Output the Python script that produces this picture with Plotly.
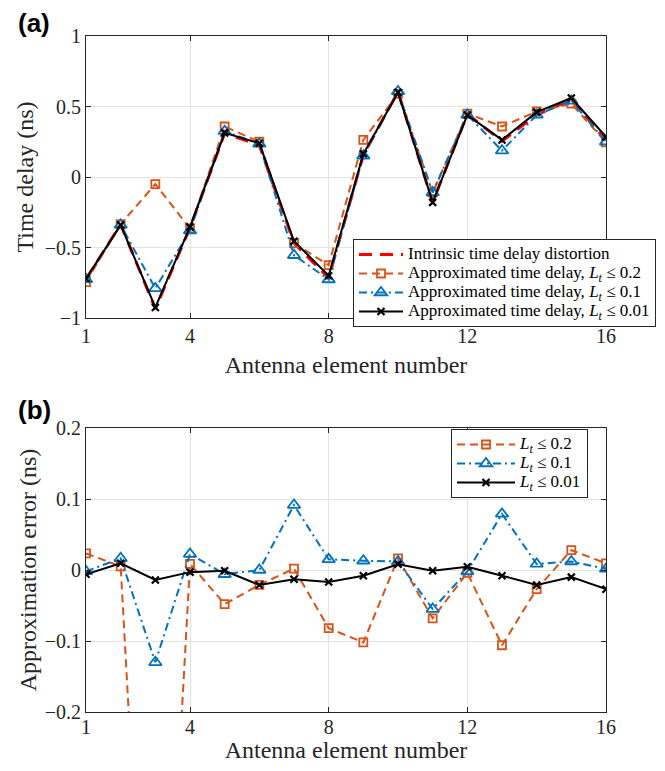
import plotly.graph_objects as go

elements = list(range(1, 17))
x_ticks = [1, 4, 8, 12, 16]

# (a) time delay (ns)
intrinsic = [-0.725, -0.335, -0.935, -0.36, 0.31, 0.225, -0.47, -0.715, 0.155, 0.605, -0.18, 0.445, 0.255, 0.44, 0.55, 0.26]
approx_02 = [-0.745, -0.335, -0.05, -0.365, 0.358, 0.25, -0.47, -0.625, 0.263, 0.59, -0.11, 0.45, 0.358, 0.465, 0.52, 0.245]
approx_01 = [-0.725, -0.34, -0.79, -0.38, 0.325, 0.235, -0.555, -0.727, 0.15, 0.607, -0.11, 0.44, 0.187, 0.44, 0.54, 0.25]
approx_001 = [-0.72, -0.34, -0.925, -0.355, 0.313, 0.24, -0.455, -0.70, 0.164, 0.60, -0.18, 0.44, 0.263, 0.46, 0.56, 0.285]

# (b) approximation error (ns)
err_02 = [0.0235, 0.005, -0.88, 0.0085, -0.048, -0.021, 0.002, -0.082, -0.102, 0.0165, -0.068, -0.004, -0.106, -0.027, 0.028, 0.0094]
err_01 = [-0.002, 0.0165, -0.13, 0.0225, -0.006, 0.0, 0.0915, 0.015, 0.013, 0.012, -0.055, -0.002, 0.079, 0.0085, 0.012, 0.0015]
err_001 = [-0.006, 0.0094, -0.014, -0.003, -0.001, -0.021, -0.013, -0.017, -0.008, 0.008, -0.001, 0.0047, -0.008, -0.021, -0.010, -0.027]

ORANGE = "#D95319"
BLUE = "#0072BD"
RED = "#FF0000"
BLACK = "#000000"
SERIF = "Liberation Serif"

OFF = 8  # default page body margin
W, H = 665 - 2 * OFF, 771 - 2 * OFF


def px_x(a, b):
    return [(a - OFF) / W, (b - OFF) / W]


def px_y(top, bottom):
    return [1 - (bottom - OFF) / H, 1 - (top - OFF) / H]


def leg(text):
    return '<span style="font-size:17px">' + text + "</span>"


lt = "<i>L</i><sub><i>t</i></sub> ≤ "
ORANGE_DASH = "8px,5px"
BLUE_DASH = "8px,4px,2px,4px"

fig = go.Figure()

# top panel
fig.add_trace(go.Scatter(x=elements, y=intrinsic, mode="lines", name=leg("Intrinsic time delay distortion"),
                         line=dict(color=RED, width=3, dash="13px,8px"), xaxis="x", yaxis="y", legend="legend"))
fig.add_trace(go.Scatter(x=elements, y=approx_02, mode="lines+markers", name=leg("Approximated time delay, " + lt + "0.2"),
                         line=dict(color=ORANGE, width=2, dash=ORANGE_DASH),
                         marker=dict(symbol="square-open", size=8, color=ORANGE, line=dict(width=1.8)),
                         xaxis="x", yaxis="y", legend="legend"))
fig.add_trace(go.Scatter(x=elements, y=approx_01, mode="lines+markers", name=leg("Approximated time delay, " + lt + "0.1"),
                         line=dict(color=BLUE, width=2, dash=BLUE_DASH),
                         marker=dict(symbol="triangle-up-open", size=11, color=BLUE, line=dict(width=1.8)),
                         xaxis="x", yaxis="y", legend="legend"))
fig.add_trace(go.Scatter(x=elements, y=approx_001, mode="lines+markers", name=leg("Approximated time delay, " + lt + "0.01"),
                         line=dict(color=BLACK, width=2),
                         marker=dict(symbol="x-thin-open", size=7, color=BLACK, line=dict(width=2.2, color=BLACK)),
                         xaxis="x", yaxis="y", legend="legend"))

# bottom panel
fig.add_trace(go.Scatter(x=elements, y=err_02, mode="lines+markers", name=leg(lt + "0.2"),
                         line=dict(color=ORANGE, width=2, dash=ORANGE_DASH),
                         marker=dict(symbol="square-open", size=8, color=ORANGE, line=dict(width=1.8)),
                         xaxis="x2", yaxis="y2", legend="legend2"))
fig.add_trace(go.Scatter(x=elements, y=err_01, mode="lines+markers", name=leg(lt + "0.1"),
                         line=dict(color=BLUE, width=2, dash=BLUE_DASH),
                         marker=dict(symbol="triangle-up-open", size=11, color=BLUE, line=dict(width=1.8)),
                         xaxis="x2", yaxis="y2", legend="legend2"))
fig.add_trace(go.Scatter(x=elements, y=err_001, mode="lines+markers", name=leg(lt + "0.01"),
                         line=dict(color=BLACK, width=2),
                         marker=dict(symbol="x-thin-open", size=7, color=BLACK, line=dict(width=2.2, color=BLACK)),
                         xaxis="x2", yaxis="y2", legend="legend2"))

axis_common = dict(showline=True, linecolor="#262626", linewidth=1, mirror="ticks", ticks="inside",
                   ticklen=5, tickcolor="#262626", showgrid=True, gridcolor="#E3E3E3", gridwidth=1,
                   zeroline=False, tickfont=dict(family=SERIF, size=20, color="#262626"),
                   automargin=False)
title_font = dict(family=SERIF, size=24, color="#262626")

fig.update_layout(
    width=W, height=H, margin=dict(l=0, r=0, t=0, b=0),
    paper_bgcolor="white", plot_bgcolor="white",
    font=dict(family=SERIF, color="#262626"),
    xaxis=dict(domain=px_x(86, 606), range=[1, 16], tickvals=x_ticks, anchor="y",
               title=dict(text="Antenna element number", font=title_font, standoff=10), **axis_common),
    yaxis=dict(domain=px_y(36, 318), range=[-1, 1], tickvals=[-1, -0.5, 0, 0.5, 1], anchor="x",
               title=dict(text="Time delay (ns)", font=title_font, standoff=4), **axis_common),
    xaxis2=dict(domain=px_x(86, 606), range=[1, 16], tickvals=x_ticks, anchor="y2", ticklabelstandoff=-3,
                title=dict(text="Antenna element number", font=title_font, standoff=9), **axis_common),
    yaxis2=dict(domain=px_y(428, 712), range=[-0.2, 0.2], tickvals=[-0.2, -0.1, 0, 0.1, 0.2], anchor="x2",
                title=dict(text="Approximation error (ns)", font=title_font, standoff=1), **axis_common),
    legend=dict(x=(353 - OFF) / W, y=1 - (239 - OFF) / H, xanchor="left", yanchor="top", bgcolor="white",
                bordercolor="#262626", borderwidth=1, font=dict(family=SERIF, size=12.3, color="#000"),
                tracegroupgap=0, itemwidth=44),
    legend2=dict(x=(451 - OFF) / W, y=1 - (429 - OFF) / H, xanchor="left", yanchor="top", bgcolor="white",
                 bordercolor="#262626", borderwidth=1, font=dict(family=SERIF, size=12.3, color="#000"),
                 tracegroupgap=0, itemwidth=58),
    annotations=[
        dict(text="<b>(a)</b>", x=(16 - OFF) / W, y=1 - (23 - OFF) / H, xref="paper", yref="paper",
             xanchor="left", yanchor="middle", showarrow=False,
             font=dict(family="Liberation Sans", size=26, color="#000")),
        dict(text="<b>(b)</b>", x=(16 - OFF) / W, y=1 - (410 - OFF) / H, xref="paper", yref="paper",
             xanchor="left", yanchor="middle", showarrow=False,
             font=dict(family="Liberation Sans", size=26, color="#000")),
    ],
)

fig.write_html("out.html")
